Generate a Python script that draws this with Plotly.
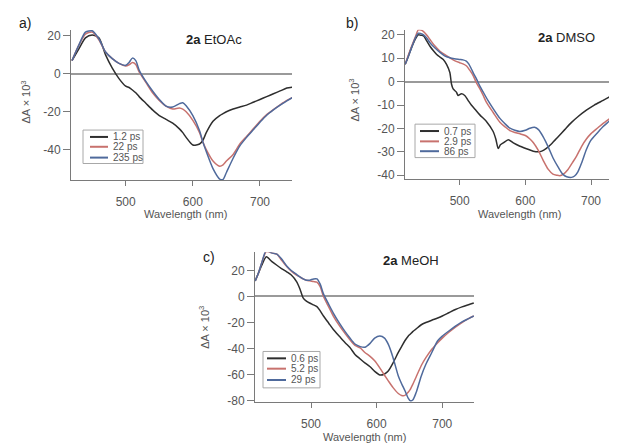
import plotly.graph_objects as go

# page body has an 8px margin, so the figure is laid out 8px in from the top-left
OFF = 8
W, H = 617 - OFF, 446 - OFF

# ---------------- data ----------------
# Panel a) 2a EtOAc
wl_a = [420, 430, 440, 450, 460, 470, 480, 490, 500, 505, 510, 515, 520, 530, 540, 550, 560, 570, 580, 585,
        590, 600, 610, 615, 620, 630, 640, 645, 650, 660, 670, 680, 690, 700, 710, 720, 730, 740, 748]
a_1p2ps = [7, 13, 19, 20.5, 19, 10, 3, -2.5, -6.5, -7.2, -8.5, -10, -12, -15.5, -19, -22, -24, -26, -29, -31,
           -33.5, -37.5, -37, -35, -31, -25, -22, -21, -20, -18.5, -17.5, -16.5, -15, -13.5, -12, -10.5, -9, -7.5, -7]
a_22ps = [7, 15, 21, 22, 18, 11.5, 8, 5.5, 4.2, 4.8, 6, 5, 1, -4.5, -10, -14, -17, -18.5, -18, -18.6,
          -20, -24.5, -31, -36, -40, -46, -48.7, -48, -46, -42.5, -37, -33, -29, -25, -21.5, -18.8, -16.3, -14, -12.5]
a_235ps = [7, 15, 22, 22.7, 18.5, 11.5, 8, 5.5, 4.5, 6, 8.3, 7, 2, -4, -9, -13.5, -17, -17.5, -15.7, -15.2,
           -16.8, -22, -30, -36, -41, -50, -55.5, -55.7, -52, -44.5, -38, -33.5, -29.5, -25.5, -21.8, -19, -16.5, -14.3, -12.6]

# Panel b) 2a DMSO
wl_b_07 = [417, 422, 428, 433, 437, 441, 445, 450, 455, 460, 465, 470, 475, 480, 485, 487.5, 490, 495, 497.5, 502.6,
           507.7, 512.8, 518, 524, 531, 541, 551, 555, 558.7, 562, 566.3, 574, 581.7, 591.8, 602, 612, 620, 625, 632, 640,
           650, 660, 670, 680, 693, 705, 718.5, 730, 739.4]
b_07ps = [7.4, 11, 15.5, 18.5, 20, 19.8, 19.6, 17.3, 15, 13.2, 11.6, 10.5, 9.5, 7.4, 3.9, -1, -3.1, -4.5, -5.9, -5.2,
          -5.9, -8, -10.1, -12, -14.3, -17.1, -21.3, -24.5, -28.6, -27, -26.2, -24.8, -26.2, -27.6, -28.7, -29.7, -30, -29.7, -28.5, -26.5,
          -23.5, -20.5, -17.5, -15, -12.2, -10, -8, -6.2, -4.5]
wl_b_29 = [417, 422, 428, 433, 437, 441, 445, 450, 455, 462, 470, 477, 485, 492, 500, 505, 510.5, 515, 520.7, 525,
           530.8, 536, 541, 551, 561.3, 569, 576.5, 584, 591.8, 600, 607, 612, 620, 627, 635, 642, 648, 652.6, 658, 665,
           672, 678, 686, 693, 700, 710, 718.5, 730, 739.4]
b_29ps = [7.4, 11.5, 16, 19.5, 22.1, 22, 21.4, 19.8, 17.9, 15.3, 13, 11.6, 10.2, 9, 8.1, 7.6, 6.7, 5, 2.5, -0.2,
          -3.1, -6, -9, -13.2, -17.4, -19.3, -20.9, -21.7, -22.3, -23, -24.5, -26, -29.5, -33.5, -37.5, -39.5, -40, -40.2, -39.5, -37.5,
          -34.5, -31.8, -27.5, -24.5, -22.2, -19.8, -17.8, -15.5, -13.6]
wl_b_86 = [417, 422, 428, 433, 437, 441, 445, 450, 455, 462, 470, 477, 485, 492, 500, 505, 510, 514, 518, 522,
           525.7, 530, 535.9, 543, 551, 561.3, 569, 576.5, 584, 591.8, 600, 607, 614, 620, 627, 635, 642, 650, 657, 663,
           670.4, 675, 680, 686, 693, 700, 710, 718.5, 730, 739.4]
b_86ps = [7.4, 11, 15.5, 19, 20.7, 20.5, 20, 18.5, 16.5, 14.5, 12.5, 11, 10.2, 9.8, 9.5, 9.3, 8.8, 7.5, 5.3, 3,
          1.1, -1.5, -4.5, -8, -11.5, -15.7, -18, -19.9, -20.8, -21.3, -20.8, -19.9, -19.5, -20.5, -23.5, -28, -32.5, -36.5, -39.5, -40.6,
          -40.9, -40.3, -38.5, -34.5, -29, -25, -21.8, -19.2, -16.3, -13.6]

# Panel c) 2a MeOH
wl_c = [415, 420, 425, 432, 440, 448, 455, 463, 470, 478, 483, 488, 493, 498, 504, 509, 514, 519, 527, 534,
        544, 552, 559, 567, 575, 582, 590, 597, 605, 612, 618, 625, 633, 638, 643, 648, 651, 655, 660, 668,
        675, 684, 693, 700, 710, 720, 730, 740, 748]
c_06ps = [12, 18, 24, 30.5, 27, 24, 21.5, 19, 16.5, 11.5, 6, -1, -3.5, -5, -6.5, -7.8, -11, -15, -20.5, -25.3,
          -31, -35.5, -39, -44.5, -48, -51, -54, -57.5, -60.3, -59.5, -57, -51, -43, -38.5, -34, -30.5, -29, -27, -25, -21.7,
          -20, -18.2, -16.5, -15, -12.5, -10, -8, -6.3, -5]
c_52ps = [12, 18, 26, 34.5, 33.5, 32.5, 28, 23, 19.5, 16.5, 15, 13.5, 12.5, 12, 11.5, 11, 7.5, 0, -8, -15,
          -23, -28.5, -33, -37.5, -39.5, -43, -46, -49.4, -55, -60.5, -65, -70, -74.5, -76, -76, -73.5, -71.5, -67.5, -62, -53,
          -47, -40.5, -35.5, -32, -27.5, -23.5, -20, -17, -15]
c_29ps = [12, 18, 26, 35.5, 33.5, 32.5, 29, 23.5, 20, 17, 15, 13.5, 12.5, 12.5, 13.5, 13.5, 9.5, 2, -6, -12.7,
          -21, -27, -31.7, -36.5, -38.5, -39, -36, -32, -30.4, -32, -37, -47, -61, -67, -72.2, -78, -80, -79.5, -74, -61,
          -52, -43, -34, -30.4, -26.5, -22.8, -19.5, -17, -15]

labels_a = ["1.2 ps", "22 ps", "235 ps"]
labels_b = ["0.7 ps", "2.9 ps", "86 ps"]
labels_c = ["0.6 ps", "5.2 ps", "29 ps"]
titles = [("2a", "EtOAc"), ("2a", "DMSO"), ("2a", "MeOH")]
panel_letters = ["a)", "b)", "c)"]

ticks_x = [500, 600, 700]
ticks_y_a = [20, 0, -20, -40]
ticks_y_b = [20, 10, 0, -10, -20, -30, -40]
ticks_y_c = [20, 0, -20, -40, -60, -80]

colors = ["#2e2e2e", "#c8726e", "#4f6a9c"]

# ---------------- layout helpers (reference pixel -> paper fraction) ----------------
def px(x):
    return (x - OFF) / W

def py(y):
    return 1 - (y - OFF) / H

fig = go.Figure()

panels = [
    dict(ax="", series=[(wl_a, a_1p2ps), (wl_a, a_22ps), (wl_a, a_235ps)], labels=labels_a),
    dict(ax="2", series=[(wl_b_07, b_07ps), (wl_b_29, b_29ps), (wl_b_86, b_86ps)], labels=labels_b),
    dict(ax="3", series=[(wl_c, c_06ps), (wl_c, c_52ps), (wl_c, c_29ps)], labels=labels_c),
]

for p in panels:
    for (xs, ys), col, lab in zip(p["series"], colors, p["labels"]):
        fig.add_trace(go.Scatter(
            x=xs, y=ys, mode="lines", name=lab, showlegend=False,
            line=dict(color=col, width=1.5, shape="spline", smoothing=0.7),
            xaxis="x" + p["ax"], yaxis="y" + p["ax"],
        ))

font_txt = "Liberation Sans, Arial, sans-serif"
tickfont = dict(family=font_txt, size=12, color="#555")
axcommon = dict(showline=True, linecolor="#7a7a7a", linewidth=1, ticks="outside",
                tickcolor="#7a7a7a", tickwidth=1, showgrid=False, tickfont=tickfont, mirror=False)

def xax(dom, rng, anchor):
    return dict(domain=dom, range=rng, tickvals=ticks_x, ticktext=[str(v) for v in ticks_x],
                anchor=anchor, ticklen=5, ticklabelstandoff=5, **axcommon)

def yax(dom, rng, tv, anchor):
    return dict(domain=dom, range=rng, tickvals=tv, ticktext=[str(v) for v in tv], anchor=anchor,
                ticklen=7, zeroline=True, zerolinecolor="#9a9a9a", zerolinewidth=1.5, **axcommon)

fig.update_layout(
    width=W, height=H, margin=dict(l=0, r=0, t=0, b=0),
    paper_bgcolor="white", plot_bgcolor="white", showlegend=False,
    xaxis=xax([px(71), px(292)], [418.5, 747.7], "y"),
    yaxis=yax([py(181), py(28)], [-56.1, 23.3], ticks_y_a, "x"),
    xaxis2=xax([px(405), 1.0], [416.7, 739.6], "y2"),
    yaxis2=yax([py(180), py(28)], [-41.7, 22.2], ticks_y_b, "x2"),
    xaxis3=xax([px(255), px(474)], [414.7, 748.3], "y3"),
    yaxis3=yax([py(406.7), py(254.3)], [-81.3, 33.9], ticks_y_c, "x3"),
)

ann = []
shapes = []

def add_text(x, y, text, size, color, **kw):
    d = dict(x=px(x), y=py(y), xref="paper", yref="paper", showarrow=False, text=text,
             xanchor="center", yanchor="middle", font=dict(family=font_txt, size=size, color=color))
    d.update(kw)
    ann.append(d)

# titles, letters, axis titles
title_pos = [(214, 38), (566, 36), (411, 263)]
letter_pos = [(25, 21), (352, 21), (209, 259)]
xtitle_pos = [(186, 215), (519, 215), (365, 442)]
ytitle_pos = [(26, 102), (354, 100), (204, 331)]
for (bold, rest), tp, lt, lp, xp, yp in zip(titles, title_pos, panel_letters, letter_pos, xtitle_pos, ytitle_pos):
    add_text(tp[0], tp[1], f"<b>{bold}</b> {rest}", 13, "#222")
    add_text(lp[0], lp[1], lt, 14, "#222")
    add_text(xp[0], xp[1], "Wavelength (nm)", 11, "#555")
    add_text(yp[0], yp[1], "ΔA × 10<sup>3</sup>", 11, "#555", textangle=-90)

# legends (box, sample lines, labels)
legend_boxes = [
    dict(box=(83, 130, 143, 164), rows=[137, 147, 158], line=(90, 108), text_x=111, labels=labels_a),
    dict(box=(415, 124, 475, 158), rows=[131, 141.5, 151.5], line=(420, 439), text_x=442, labels=labels_b),
    dict(box=(263, 355, 320, 392), rows=[362, 372.5, 384], line=(267, 286), text_x=289, labels=labels_c),
]
for lg in legend_boxes:
    x0, y0, x1, y1 = lg["box"]
    shapes.append(dict(type="rect", xref="paper", yref="paper", x0=px(x0), x1=px(x1), y0=py(y1), y1=py(y0),
                       line=dict(color="#a8a8a8", width=1), fillcolor="white", layer="above"))
    for ry, col, lab in zip(lg["rows"], colors, lg["labels"]):
        shapes.append(dict(type="line", xref="paper", yref="paper", x0=px(lg["line"][0]), x1=px(lg["line"][1]),
                           y0=py(ry), y1=py(ry), line=dict(color=col, width=2), layer="above"))
        add_text(lg["text_x"], ry, lab, 10, "#555", xanchor="left")

fig.update_layout(annotations=ann, shapes=shapes)
fig.write_html("out.html")
